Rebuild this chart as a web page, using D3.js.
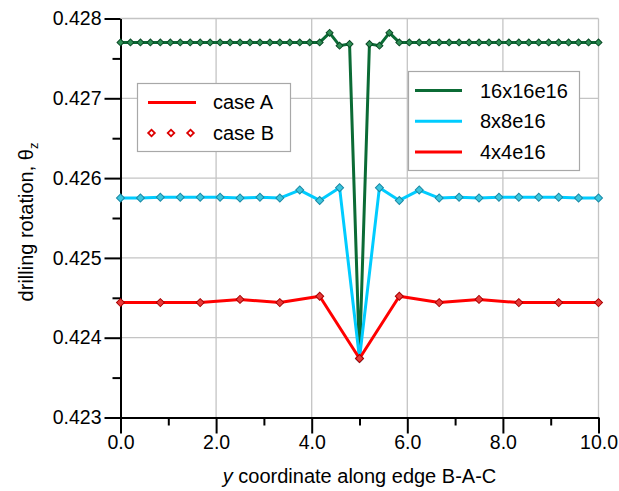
<!DOCTYPE html>
<html>
<head>
<meta charset="utf-8">
<script src="https://cdn.jsdelivr.net/npm/d3@7"></script>
<style>
  body { margin: 0; background: #fff; }
  text { font-family: "Liberation Sans", Arial, sans-serif; fill: #000; }
</style>
</head>
<body>
<svg id="chart" width="619" height="491"></svg>
<script>
// mesh 16x16e16
var xFine = [0, 0.208, 0.417, 0.625, 0.833, 1.042, 1.25, 1.458, 1.667, 1.875, 2.083, 2.292,
	2.5, 2.708, 2.917, 3.125, 3.333, 3.542, 3.75, 3.958, 4.167, 4.375, 4.583, 4.792, 5,
	5.208, 5.417, 5.625, 5.833, 6.042, 6.25, 6.458, 6.667, 6.875, 7.083, 7.292, 7.5, 7.708,
	7.917, 8.125, 8.333, 8.542, 8.75, 8.958, 9.167, 9.375, 9.583, 9.792, 10];
var yFine = [0.4277, 0.4277, 0.4277, 0.4277, 0.4277, 0.4277, 0.4277, 0.4277, 0.4277, 0.4277,
	0.4277, 0.4277, 0.4277, 0.4277, 0.4277, 0.4277, 0.4277, 0.4277, 0.4277, 0.4277,
	0.4277, 0.42782, 0.42766, 0.42768, 0.42374, 0.42768, 0.42766, 0.42782, 0.4277,
	0.4277, 0.4277, 0.4277, 0.4277, 0.4277, 0.4277, 0.4277, 0.4277, 0.4277, 0.4277,
	0.4277, 0.4277, 0.4277, 0.4277, 0.4277, 0.4277, 0.4277, 0.4277, 0.4277, 0.4277];
// mesh 8x8e16
var xMid = [0, 0.417, 0.833, 1.25, 1.667, 2.083, 2.5, 2.917, 3.333, 3.75, 4.167, 4.583, 5,
	5.417, 5.833, 6.25, 6.667, 7.083, 7.5, 7.917, 8.333, 8.75, 9.167, 9.583, 10];
var yMid = [0.42575, 0.42575, 0.42576, 0.42576, 0.42576, 0.42576, 0.42575, 0.42576, 0.42575,
	0.42585, 0.42572, 0.42588, 0.42374, 0.42588, 0.42572, 0.42585, 0.42575, 0.42576,
	0.42575, 0.42576, 0.42576, 0.42576, 0.42576, 0.42575, 0.42575];
// mesh 4x4e16
var xCoarse = [0, 0.833, 1.667, 2.5, 3.333, 4.167, 5, 5.833, 6.667, 7.5, 8.333, 9.167, 10];
var yCoarse = [0.42444, 0.42444, 0.42444, 0.42448, 0.42444, 0.42452, 0.42374, 0.42452,
	0.42444, 0.42448, 0.42444, 0.42444, 0.42444];

var xTicks = [0, 2, 4, 6, 8, 10];
var xMinor = [1, 3, 5, 7, 9];
var yTicks = [0.423, 0.424, 0.425, 0.426, 0.427, 0.428];
var yMinor = [0.4235, 0.4245, 0.4255, 0.4265, 0.4275];
var seriesNames = ['16x16e16', '8x8e16', '4x4e16'];
var caseNames = ['case A', 'case B'];

var svg = d3.select('#chart');

var x = d3.scaleLinear().domain([0, 10]).range([120.5, 598.5]);
var y = d3.scaleLinear().domain([0.423, 0.428]).range([417.5, 18.5]);

// grid
svg.append('g').selectAll('line.vg')
	.data(xTicks.slice(1))
	.enter().append('line')
	.attr('x1', function(d) { return x(d) }).attr('x2', function(d) { return x(d) })
	.attr('y1', y(0.423)).attr('y2', y(0.428))
	.style('stroke', '#c4c4c4').style('stroke-width', 1.3);
svg.append('g').selectAll('line.hg')
	.data(yTicks.slice(1))
	.enter().append('line')
	.attr('x1', x(0)).attr('x2', x(10))
	.attr('y1', function(d) { return y(d) }).attr('y2', function(d) { return y(d) })
	.style('stroke', '#c4c4c4').style('stroke-width', 1.3);

// axes
var xAxis = svg.append('g').attr('transform', 'translate(0,' + y(0.423) + ')')
	.call(d3.axisBottom(x).tickValues(xTicks).tickSize(16).tickSizeOuter(0).tickPadding(2)
		.tickFormat(d3.format('.1f')));
var xAxisMinor = svg.append('g').attr('transform', 'translate(0,' + y(0.423) + ')')
	.call(d3.axisBottom(x).tickValues(xMinor).tickSize(8).tickSizeOuter(0).tickFormat(''));
var yAxis = svg.append('g').attr('transform', 'translate(' + x(0) + ',0)')
	.call(d3.axisLeft(y).tickValues(yTicks).tickSize(16).tickSizeOuter(0).tickPadding(3)
		.tickFormat(d3.format('.3f')));
var yAxisMinor = svg.append('g').attr('transform', 'translate(' + x(0) + ',0)')
	.call(d3.axisLeft(y).tickValues(yMinor).tickSize(8).tickSizeOuter(0).tickFormat(''));

[xAxis, xAxisMinor, yAxis, yAxisMinor].forEach(function(g) {
	g.selectAll('path, line').style('stroke', '#000').style('stroke-width', 2);
	g.selectAll('text').style('font-size', '19.5px').style('font-family', '"Liberation Sans", Arial, sans-serif');
});

// axis titles
var xt = svg.append('text')
	.attr('x', (x(0) + x(10)) / 2).attr('y', 483)
	.attr('text-anchor', 'middle').style('font-size', '20px');
xt.append('tspan').style('font-style', 'italic').text('y');
xt.append('tspan').text(' coordinate along edge B-A-C');

var yt = svg.append('text')
	.attr('transform', 'translate(33,' + ((y(0.423) + y(0.428)) / 2 + 4) + ') rotate(-90)')
	.attr('text-anchor', 'middle').style('font-size', '20px');
yt.append('tspan').text('drilling rotation, θ');
yt.append('tspan').attr('dy', 5).style('font-size', '13px').text('z');

// series
var series = [
	{ name: seriesNames[0], xs: xFine, ys: yFine, line: '#0b6b35', fill: '#2f8f55', edge: '#0a4a26', size: 24 },
	{ name: seriesNames[1], xs: xMid, ys: yMid, line: '#00ccff', fill: '#3cc6de', edge: '#1a8aa6', size: 32 },
	{ name: seriesNames[2], xs: xCoarse, ys: yCoarse, line: '#ff0000', fill: '#e83a3a', edge: '#a80000', size: 32 }
];

var line = d3.line().x(function(d) { return x(d[0]) }).y(function(d) { return y(d[1]) });

series.forEach(function(s) {
	var pts = s.xs.map(function(v, i) { return [v, s.ys[i]] });
	svg.append('path')
		.datum(pts)
		.attr('d', line)
		.style('fill', 'none')
		.style('stroke', s.line)
		.style('stroke-width', 3)
		.style('stroke-linejoin', 'round');
	svg.append('g').selectAll('path')
		.data(pts)
		.enter().append('path')
		.attr('d', d3.symbol().type(d3.symbolSquare).size(s.size))
		.attr('transform', function(d) { return 'translate(' + x(d[0]) + ',' + y(d[1]) + ') rotate(45)' })
		.style('fill', s.fill)
		.style('stroke', s.edge)
		.style('stroke-width', 1);
});

// legend: case A / case B
var lg1 = svg.append('g');
lg1.append('rect').attr('x', 137.5).attr('y', 83.5).attr('width', 153).attr('height', 68)
	.style('fill', '#fff').style('stroke', '#a8a8a8').style('stroke-width', 1.2);
lg1.append('line').attr('x1', 148).attr('x2', 196).attr('y1', 102.5).attr('y2', 102.5)
	.style('stroke', '#ff0000').style('stroke-width', 3);
lg1.selectAll('path')
	.data([151.5, 171, 190.5])
	.enter().append('path')
	.attr('d', d3.symbol().type(d3.symbolSquare).size(22))
	.attr('transform', function(d) { return 'translate(' + d + ',133) rotate(45)' })
	.style('fill', '#fff').style('stroke', '#dd0000').style('stroke-width', 1.8);
lg1.selectAll('text')
	.data(caseNames)
	.enter().append('text')
	.attr('x', 213).attr('y', function(d, i) { return 109 + i * 31 })
	.style('font-size', '20px')
	.text(function(d) { return d });

// legend: meshes
var lg2 = svg.append('g');
lg2.append('rect').attr('x', 408.5).attr('y', 71.5).attr('width', 171).attr('height', 99)
	.style('fill', '#fff').style('stroke', '#a8a8a8').style('stroke-width', 1.2);
lg2.selectAll('line')
	.data(series)
	.enter().append('line')
	.attr('x1', 415).attr('x2', 462)
	.attr('y1', function(d, i) { return 90.5 + i * 30.8 }).attr('y2', function(d, i) { return 90.5 + i * 30.8 })
	.style('stroke', function(d) { return d.line }).style('stroke-width', 3);
lg2.selectAll('text')
	.data(series)
	.enter().append('text')
	.attr('x', 480).attr('y', function(d, i) { return 97.5 + i * 30.8 })
	.style('font-size', '20px')
	.text(function(d) { return d.name });
</script>
</body>
</html>
